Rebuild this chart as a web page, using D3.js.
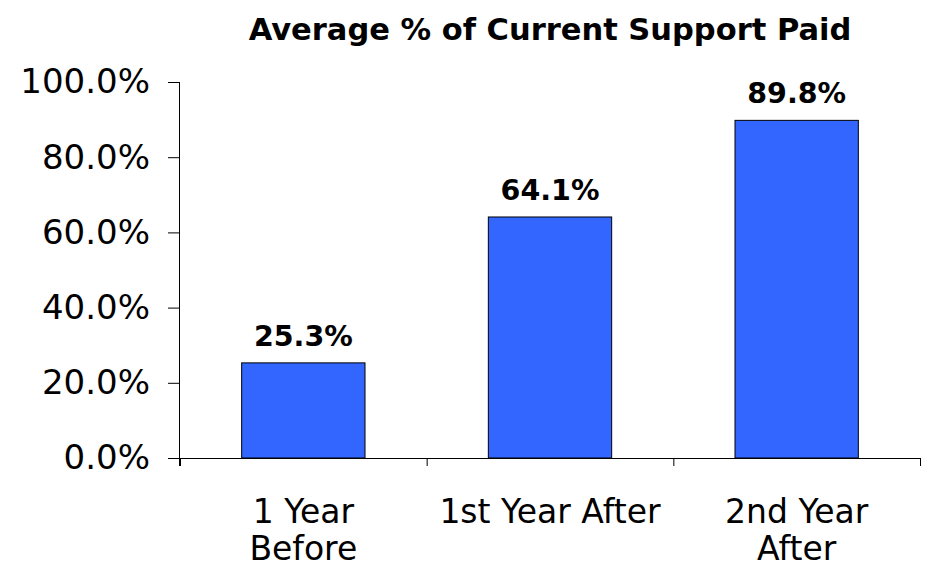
<!DOCTYPE html>
<html lang="en">
<head>
<meta charset="UTF-8">
<title>Average % of Current Support Paid</title>
<style>
  body { margin: 0; background: #fff; }
  text { font-family: "DejaVu Sans", sans-serif; fill: #000; }
</style>
</head>
<body>
<script src="https://d3js.org/d3.v7.min.js"></script>
<script>
    // data
    let categories = [["1 Year", "Before"], ["1st Year After"], ["2nd Year", "After"]];
    let values = [25.3, 64.1, 89.8];
    let yTicks = [0, 20, 40, 60, 80, 100];
    let title = "Average % of Current Support Paid";

    let w = 929, h = 567;
    let inner = {top: 82, right: 9, bottom: 109, left: 180};

    let svg = d3.select("body").append("svg")
        .attr("width", w)
        .attr("height", h);

    let xScale = d3.scaleBand()
        .domain(d3.range(values.length))
        .range([inner.left, w - inner.right])
        .paddingInner(0.5)
        .paddingOuter(0.25);

    let yScale = d3.scaleLinear()
        .domain([0, 100])
        .range([h - inner.bottom, inner.top]);

    // title
    svg.append("text")
        .attr("x", 550)
        .attr("y", 40)
        .attr("text-anchor", "middle")
        .style("font-size", "30.5px")
        .style("font-weight", "bold")
        .text(title);

    // bars
    svg.selectAll("rect.bar")
        .data(values)
        .enter()
        .append("rect")
        .attr("class", "bar")
        .attr("x", (d, i) => xScale(i))
        .attr("y", d => yScale(d))
        .attr("width", xScale.bandwidth())
        .attr("height", d => yScale(0) - yScale(d))
        .attr("fill", "#3366ff")
        .attr("stroke", "#000")
        .attr("stroke-width", 1);

    // value labels
    svg.selectAll("text.val")
        .data(values)
        .enter()
        .append("text")
        .attr("class", "val")
        .attr("x", (d, i) => xScale(i) + xScale.bandwidth() / 2)
        .attr("y", d => yScale(d) - 17)
        .attr("text-anchor", "middle")
        .style("font-size", "28.5px")
        .style("font-weight", "bold")
        .text(d => d.toFixed(1) + "%");

    // y axis
    let yAxis = d3.axisLeft(yScale)
        .tickValues(yTicks)
        .tickSize(12)
        .tickPadding(18)
        .tickFormat(d => d.toFixed(1) + "%");

    let gy = svg.append("g")
        .attr("transform", "translate(" + inner.left + ",0)")
        .call(yAxis);
    gy.select(".domain").attr("d", "M-0.5," + yScale(100) + "V" + (yScale(0) + 8));
    gy.selectAll("text").style("font-size", "34px").style("font-family", "DejaVu Sans");

    // x axis: ticks on band borders
    let xLine = d3.scaleLinear().domain([0, values.length]).range([inner.left, w - inner.right]);
    let xAxis = d3.axisBottom(xLine)
        .ticks(values.length)
        .tickSize(8)
        .tickFormat("");

    svg.append("g")
        .attr("transform", "translate(0," + yScale(0) + ")")
        .call(xAxis)
        .select(".domain").attr("d", "M" + inner.left + ",0.5H" + (w - inner.right));

    svg.selectAll("path.domain, .tick line").attr("stroke", "#000");

    // category labels
    let cat = svg.selectAll("text.cat")
        .data(categories)
        .enter()
        .append("text")
        .attr("class", "cat")
        .attr("text-anchor", "middle")
        .style("font-size", "33px");

    cat.selectAll("tspan")
        .data((d, i) => d.map(s => ({s: s, i: i})))
        .enter()
        .append("tspan")
        .attr("x", d => xScale(d.i) + xScale.bandwidth() / 2)
        .attr("y", (d, j) => 523 + j * 37)
        .text(d => d.s);
</script>
</body>
</html>
